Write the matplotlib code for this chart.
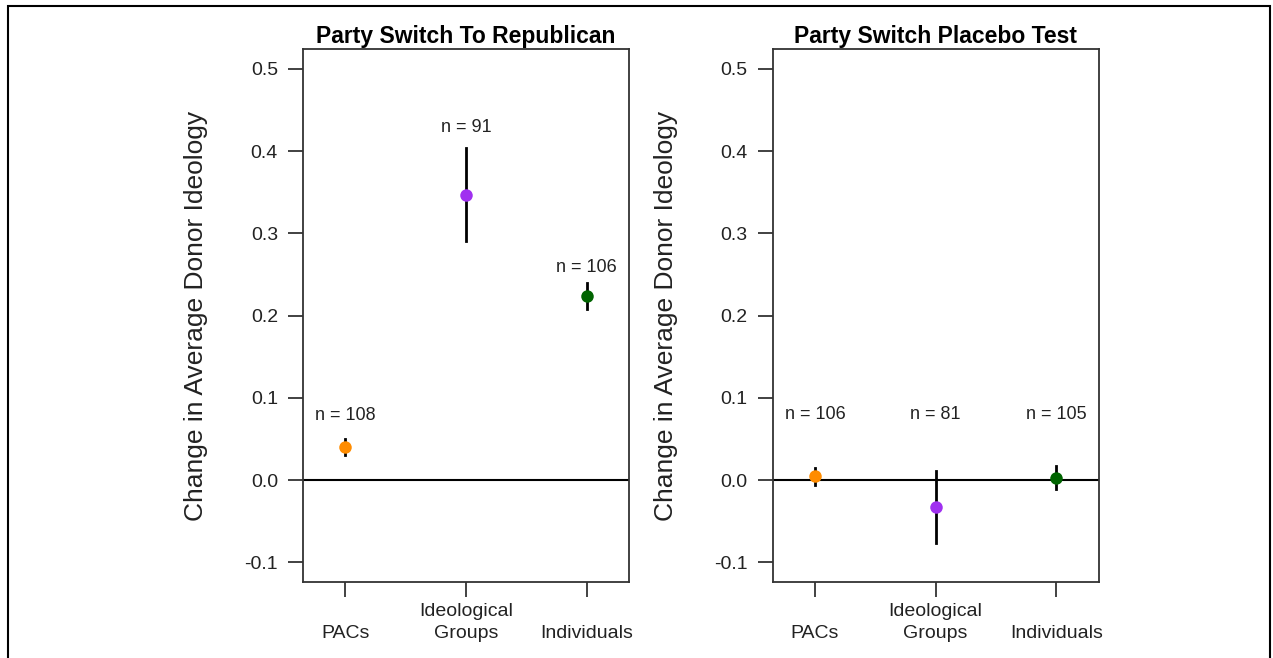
import matplotlib
matplotlib.use("Agg")
import matplotlib.pyplot as plt
from matplotlib.patches import Rectangle

plt.rcParams['font.family'] = ['Liberation Sans', 'DejaVu Sans']

# data
groups = ['PACs', 'Ideological\nGroups', 'Individuals']
colors = ['#FF8C00', '#A030F0', '#006400']

rep_est = [0.040, 0.347, 0.224]
rep_lo = [0.031, 0.290, 0.208]
rep_hi = [0.050, 0.404, 0.240]
rep_n = [108, 91, 106]
rep_label_y = [0.079, 0.428, 0.258]

plc_est = [0.005, -0.033, 0.003]
plc_lo = [-0.006, -0.077, -0.011]
plc_hi = [0.014, 0.011, 0.017]
plc_n = [106, 81, 105]
plc_label_y = [0.080, 0.080, 0.080]

yticks = [-0.1, 0.0, 0.1, 0.2, 0.3, 0.4, 0.5]

fig = plt.figure(figsize=(12.73, 6.58), dpi=100)
ax1 = fig.add_axes([0.238, 0.1155, 0.256, 0.810])
ax2 = fig.add_axes([0.607, 0.1155, 0.256, 0.810])


def panel(ax, title, est, lo, hi, n, label_y):
    x = [1, 2, 3]
    ax.axhline(0, color='black', lw=1.5, zorder=1)
    for i in range(3):
        ax.plot([x[i], x[i]], [lo[i], hi[i]], color='black', lw=2, zorder=2)
        ax.plot(x[i], est[i], 'o', color=colors[i], ms=9, mec='none', zorder=3)
        ax.text(x[i], label_y[i], f"n = {n[i]}", ha='center', va='center',
                fontsize=13, color='#222222')
    ax.set_xlim(0.65, 3.35)
    ax.set_ylim(-0.124, 0.524)
    ax.set_xticks(x)
    ax.set_xticklabels(groups, fontsize=14, color='#222222', linespacing=1.35)
    # labels sit on a common bottom line, like the reference
    for lab in ax.get_xticklabels():
        lab.set_verticalalignment('bottom')
    ax.set_yticks(yticks)
    ax.set_yticklabels([f"{v:.1f}" for v in yticks], fontsize=14, color='#222222')
    ax.tick_params(axis='y', length=11, width=1.3, pad=7, color='#333333')
    ax.tick_params(axis='x', length=11, width=1.3, pad=32, color='#333333')
    for s in ax.spines.values():
        s.set_linewidth(1.3)
        s.set_color('#333333')
    ax.set_title(title, fontsize=16.5, fontweight='bold', pad=4)
    ax.set_ylabel("Change in Average Donor Ideology", fontsize=19, labelpad=26,
                  color='#222222')


panel(ax1, "Party Switch To Republican", rep_est, rep_lo, rep_hi, rep_n, rep_label_y)
panel(ax2, "Party Switch Placebo Test", plc_est, plc_lo, plc_hi, plc_n, plc_label_y)

# outer frame
fig.patches.append(Rectangle((8 / 1273, -0.02), (1270 - 8) / 1273, 1.02 - 6 / 658,
                             transform=fig.transFigure, fill=False,
                             edgecolor='black', lw=1.5))

fig.savefig("out.png", dpi=100)
